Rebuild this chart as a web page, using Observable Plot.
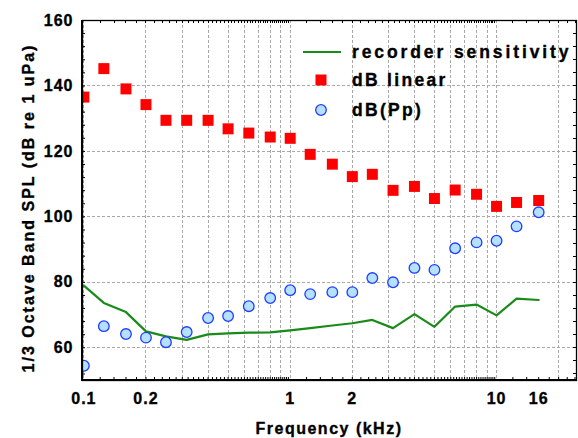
<!DOCTYPE html>
<html><head><meta charset="utf-8">
<script src="https://cdn.jsdelivr.net/npm/d3@7"></script>
<script src="https://cdn.jsdelivr.net/npm/@observablehq/plot@0.6"></script>
<style>
body{margin:0;background:#fff;}
#chart{position:relative;width:578px;height:438px;}
svg text{font-family:"Liberation Sans",Arial,sans-serif;font-weight:bold;fill:#000;stroke:#000;stroke-width:0.35px;}
.tl text{letter-spacing:1px;}
#overlay{position:absolute;top:0;left:0;pointer-events:none;background:none;overflow:visible;}
</style></head><body><div id="chart"></div>
<script>
// 1/3-octave band centre frequencies (kHz)
const freqs = [0.1,0.125,0.16,0.2,0.25,0.315,0.4,0.5,0.63,0.8,1,1.25,1.6,2,2.5,3.15,4,5,6.3,8,10,12.5,16];
const dbLinear = [136.6,145.3,139.1,134.3,129.5,129.5,129.5,126.9,125.6,124.4,124.0,119.1,116.1,112.3,113.0,108.1,109.3,105.6,108.2,106.9,103.2,104.4,105.0];
const dbPp = [54.5,66.6,64.2,63.1,61.7,64.8,69.1,69.7,72.7,75.2,77.6,76.4,77.0,77.0,81.3,80.0,84.4,83.8,90.4,92.2,92.7,97.1,101.4];
const recorderSens = [79.0,73.7,70.9,65.0,63.5,62.4,64.1,64.4,64.6,64.7,65.3,66.0,66.8,67.5,68.5,66.0,70.3,66.4,72.6,73.2,69.9,75.0,74.6];
const seriesNames = ["recorder sensitivity","dB linear","dB(Pp)"];
const xTickLabels = [0.1,0.2,0.5,1,2,5,10,16];
const yTickLabels = [60,80,100,120,140,160];
const xGrid = [0.1,0.2,0.3,0.4,0.5,0.6,0.7,0.8,0.9,1,2,3,4,5,6,7,8,9,10,20];
const yGrid = [60,80,100,120,140];
const xDomain = [0.0985,24.4];
const yDomain = [50,160];
const xTicks = [...d3.range(0.12,1.0,0.02), ...d3.range(1.2,10,0.2), ...d3.range(12,25,2)];
const yTicks = d3.range(52,160,4);
const xLabel = "Frequency (kHz)";
const yLabel = "1/3 Octave Band SPL (dB re 1 uPa)";

const rows = freqs.map((f,i)=>({f, lin: dbLinear[i], pp: dbPp[i], sens: recorderSens[i]}));
const grid = {stroke:"#a9a9a9", strokeDasharray:"3,2", strokeWidth:1, strokeOpacity:1, shapeRendering:"crispEdges"};
const plotH = 360, plotW = 494;
const green = "#1a8a1a", red = "#ff0000", blueFill = "#b5e1ff", blueStroke = "#1f3dff";

const chart = Plot.plot({
  width:578, height:438, marginLeft:82, marginRight:2, marginTop:20, marginBottom:58,
  style:{fontFamily:"'Liberation Sans',Arial,sans-serif", fontSize:"16px", fontWeight:"bold", color:"#000", background:"#fff"},
  x:{type:"log", domain:xDomain, label:null},
  y:{domain:yDomain, label:null},
  marks:[
    Plot.ruleX(xGrid, grid),
    Plot.ruleY(yGrid, grid),
    Plot.tickX(xTicks, {x:d=>d, insetTop:plotH-3, stroke:"#000", strokeWidth:1}),
    Plot.tickY(yTicks, {y:d=>d, insetRight:plotW-3, stroke:"#000", strokeWidth:1}),
    Plot.line(rows, {x:"f", y:"sens", stroke:green, strokeWidth:2.2, clip:true}),
    Plot.dot(rows, {x:"f", y:"lin", symbol:"square", r:6.2, fill:red, stroke:null, clip:true}),
    Plot.dot(rows, {x:"f", y:"pp", r:5.3, fill:blueFill, stroke:blueStroke, strokeWidth:1.3, clip:true}),
    Plot.frame({stroke:"#000", strokeWidth:1.3}),
    Plot.axisX(xTickLabels, {tickSize:0, tickPadding:12, tickFormat:d=>String(d), label:null, fontSize:16, fontWeight:"bold", className:"tl"}),
    Plot.axisY(yTickLabels, {tickSize:0, tickPadding:9, label:null, fontSize:16, fontWeight:"bold", className:"tl"})
  ]
});
const holder = document.getElementById("chart");
holder.appendChild(chart);
const xs = chart.scale("x"), ys = chart.scale("y");

// overlay svg: edge ticks, heavier axes, titles and legend
const ov = d3.create("svg").attr("id","overlay").attr("width",578).attr("height",438);
const extra = ov.append("g").attr("stroke","#000").attr("stroke-width",1);
xTicks.forEach(v=>{ const px = Math.round(xs.apply(v))+0.5;
  extra.append("line").attr("x1",px).attr("x2",px).attr("y1",20).attr("y2",23); });
yTicks.forEach(v=>{ const py = Math.round(ys.apply(v))+0.5;
  extra.append("line").attr("x1",573).attr("x2",576).attr("y1",py).attr("y2",py); });
ov.append("line").attr("x1",82).attr("x2",82).attr("y1",20).attr("y2",381).attr("stroke","#000").attr("stroke-width",2);
ov.append("line").attr("x1",81).attr("x2",576).attr("y1",380).attr("y2",380).attr("stroke","#000").attr("stroke-width",2);

ov.append("text").attr("x",329).attr("y",428).attr("dy","0.35em").attr("text-anchor","middle")
  .style("font-size","16px").style("letter-spacing","1.5px").text(xLabel);
ov.append("text").attr("transform","translate(28,208) rotate(-90)").attr("dy","0.35em").attr("text-anchor","middle")
  .style("font-size","16px").style("letter-spacing","2px").text(yLabel);

const rowsY = [52,80,110];
ov.append("line").attr("x1",303).attr("x2",341).attr("y1",rowsY[0]).attr("y2",rowsY[0]).attr("stroke",green).attr("stroke-width",2.2);
ov.append("rect").attr("x",321-5.5).attr("y",rowsY[1]-5.5).attr("width",11).attr("height",11).attr("fill",red);
ov.append("circle").attr("cx",321).attr("cy",rowsY[2]).attr("r",5.3).attr("fill",blueFill).attr("stroke",blueStroke).attr("stroke-width",1.3);
seriesNames.forEach((n,i)=>{
  ov.append("text").attr("x",352).attr("y",rowsY[i]).attr("dy","0.35em").attr("text-anchor","start")
    .style("font-size","17.5px").style("letter-spacing", i===0 ? "2.9px" : "2.3px").text(n);
});
holder.appendChild(ov.node());
</script></body></html>
